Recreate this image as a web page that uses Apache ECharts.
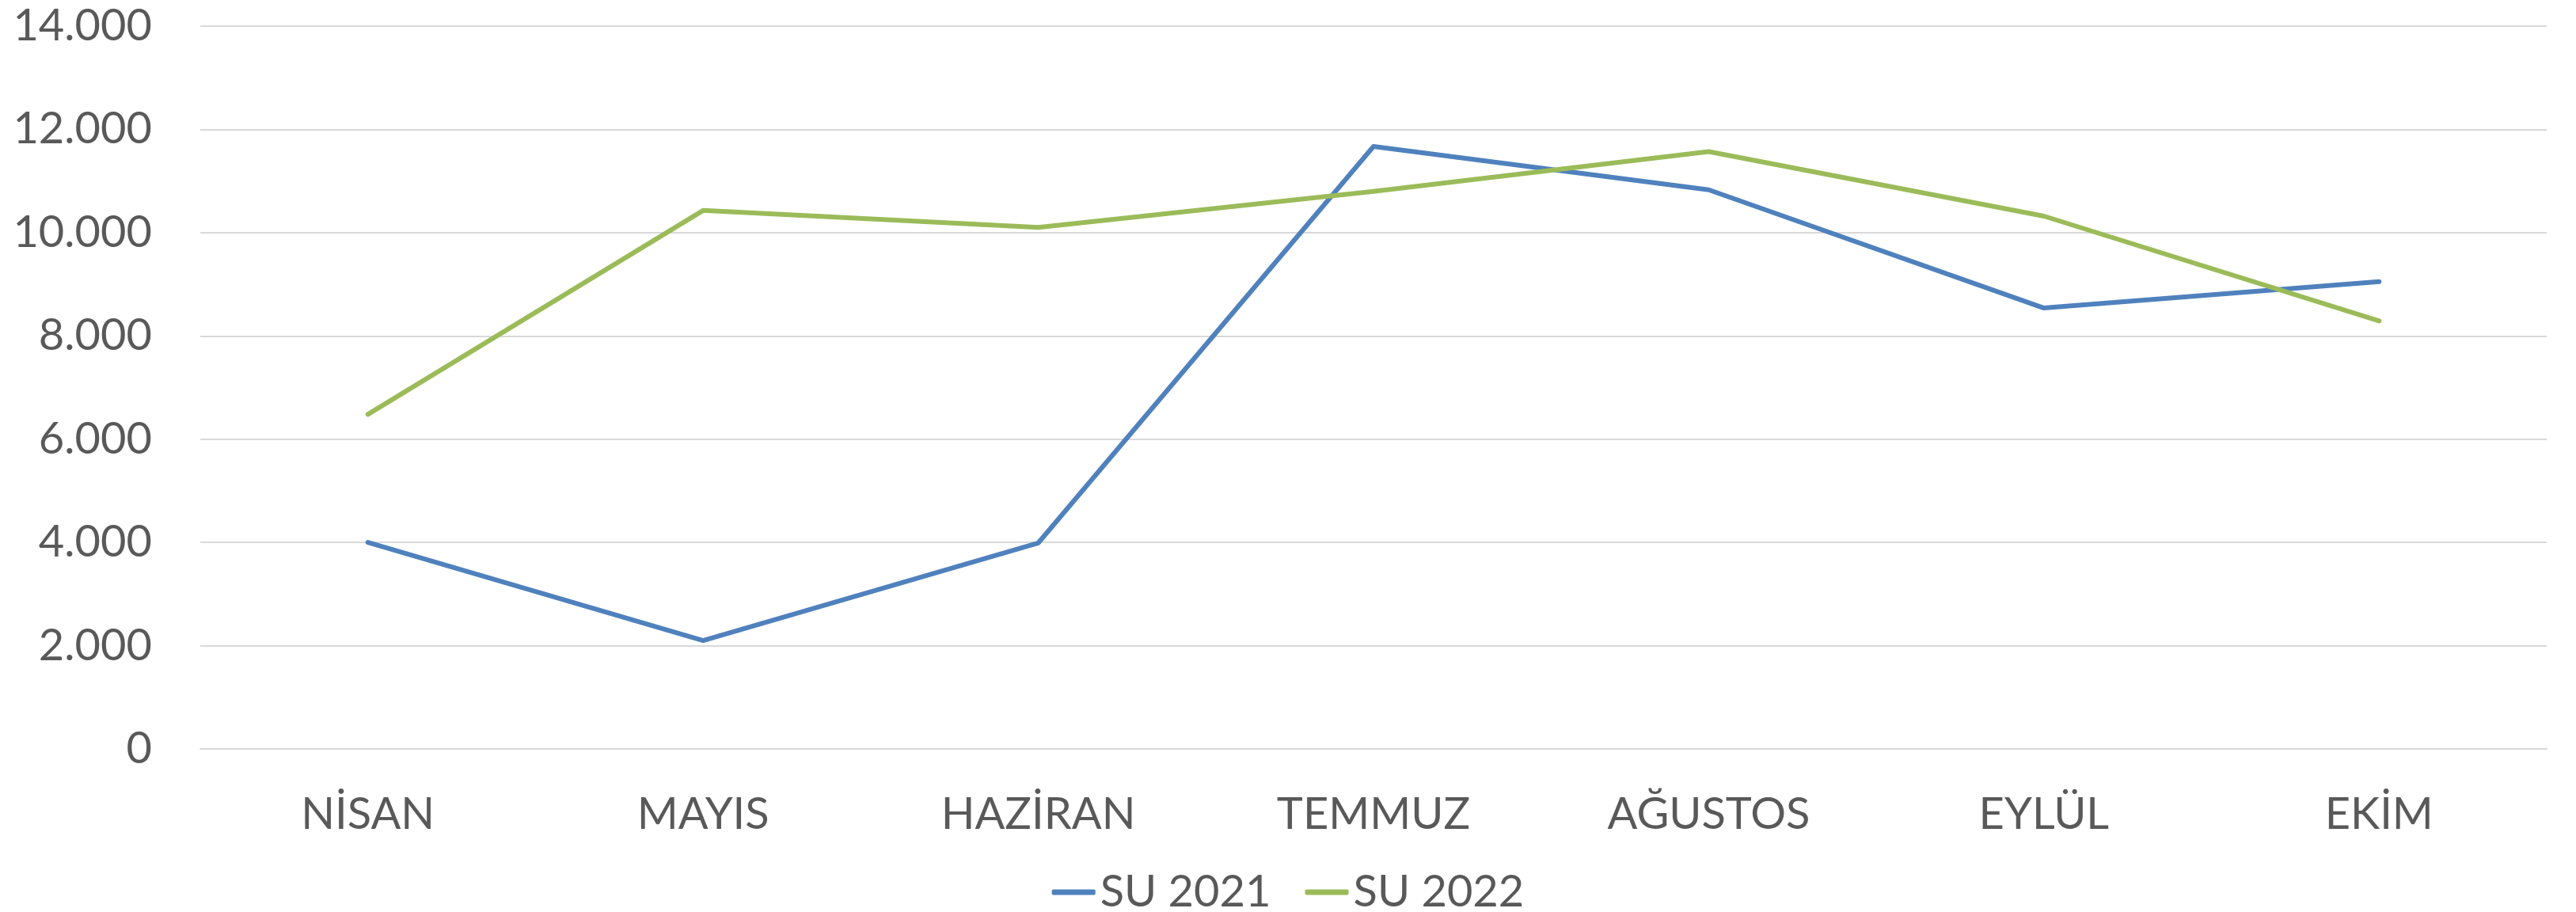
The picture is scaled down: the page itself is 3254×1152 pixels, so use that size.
<!DOCTYPE html>
<html>
<head>
<meta charset="utf-8">
<script src="https://cdn.jsdelivr.net/npm/echarts@6/dist/echarts.min.js"></script>
<style>
html,body{margin:0;padding:0;background:#fff;}
#chart{width:3254px;height:1152px;}
</style>
</head>
<body>
<div id="chart"></div>
<script>
const categories = ['NİSAN', 'MAYIS', 'HAZİRAN', 'TEMMUZ', 'AĞUSTOS', 'EYLÜL', 'EKİM'];
const su2021 = [4000, 2100, 3990, 11670, 10830, 8540, 9050];
const su2022 = [6480, 10430, 10100, 10800, 11570, 10320, 8290];
const seriesNames = ['SU 2021', 'SU 2022'];
const yTickLabels = ['0', '2.000', '4.000', '6.000', '8.000', '10.000', '12.000', '14.000'];

const FONT = 'Lato';
const TXT = '#595959';
const chart = echarts.init(document.getElementById('chart'), null, {renderer: 'canvas'});
chart.setOption({
  animation: false,
  backgroundColor: '#ffffff',
  grid: {left: 253, right: 37, top: 33, bottom: 206, containLabel: false},
  legend: {
    data: seriesNames,
    left: 'center',
    top: 1099,
    padding: 0,
    itemGap: 43,
    itemWidth: 55,
    itemHeight: 7,
    icon: 'roundRect',
    textStyle: {color: TXT, fontFamily: FONT, fontSize: 56, padding: [0, 0, 0, 1]}
  },
  xAxis: {
    type: 'category',
    data: categories,
    boundaryGap: true,
    axisLine: {show: true, lineStyle: {color: '#D9D9D9', width: 2}},
    axisTick: {show: false},
    axisLabel: {color: TXT, fontFamily: FONT, fontSize: 56, margin: 55, interval: 0}
  },
  yAxis: {
    type: 'value',
    min: 0,
    max: 14000,
    interval: 2000,
    axisLine: {show: false},
    axisTick: {show: false},
    splitLine: {lineStyle: {color: '#D9D9D9', width: 2}},
    axisLabel: {
      color: TXT, fontFamily: FONT, fontSize: 56, margin: 61,
      formatter: function (v) { return yTickLabels[Math.round(v / 2000)]; }
    }
  },
  series: [
    {
      name: seriesNames[0], type: 'line', data: su2021,
      symbol: 'none', smooth: false,
      lineStyle: {color: '#4F81BD', width: 6, cap: 'round', join: 'round'},
      itemStyle: {color: '#4F81BD'}
    },
    {
      name: seriesNames[1], type: 'line', data: su2022,
      symbol: 'none', smooth: false,
      lineStyle: {color: '#9BBB59', width: 6, cap: 'round', join: 'round'},
      itemStyle: {color: '#9BBB59'}
    }
  ]
});
</script>
</body>
</html>
